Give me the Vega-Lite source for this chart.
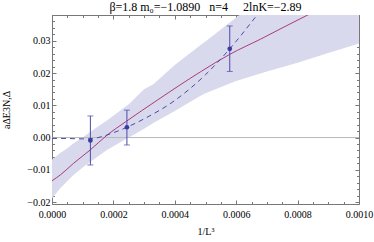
{
  "$schema": "https://vega.github.io/schema/vega-lite/v6.json",
  "width": 307,
  "height": 189,
  "autosize": {"type": "none"},
  "padding": {"left": 52, "top": 15, "right": 15, "bottom": 38},
  "title": {"text": "β=1.8 m₀=−1.0890\u00a0\u00a0 n=4\u00a0\u00a0\u00a0\u00a0 2lnK=−2.89", "font": "Liberation Serif", "fontSize": 12, "fontWeight": "normal", "color": "#000", "offset": 4, "dy": 8},
  "config": {
    "view": {"stroke": null},
    "axis": {"labelFont": "Liberation Serif", "labelFontSize": 10, "labelColor": "#000", "titleFont": "Liberation Serif", "titleFontSize": 10, "titleFontWeight": "normal", "titleColor": "#000", "domainColor": "#777", "tickColor": "#777", "grid": false}
  },
  "datasets": {
    "band": [
      {"x": 0.0, "lo": -0.0188, "hi": -0.0069},
      {"x": 0.000027, "lo": -0.0157, "hi": -0.0048},
      {"x": 0.00005, "lo": -0.0135, "hi": -0.0033},
      {"x": 0.00007, "lo": -0.0116, "hi": -0.0018},
      {"x": 0.0001, "lo": -0.0093, "hi": 0.0000},
      {"x": 0.000125, "lo": -0.0075, "hi": 0.0018},
      {"x": 0.00018, "lo": -0.0038, "hi": 0.0054},
      {"x": 0.00025, "lo": 0.0000, "hi": 0.0103},
      {"x": 0.0003, "lo": 0.0027, "hi": 0.0150},
      {"x": 0.00033, "lo": 0.0045, "hi": 0.0165},
      {"x": 0.0004, "lo": 0.0082, "hi": 0.0225},
      {"x": 0.000484, "lo": 0.0130, "hi": 0.0287},
      {"x": 0.0005, "lo": 0.0137, "hi": 0.0298},
      {"x": 0.000579, "lo": 0.0168, "hi": 0.0357},
      {"x": 0.0006, "lo": 0.0175, "hi": 0.0372},
      {"x": 0.0007, "lo": 0.0205, "hi": 0.0445},
      {"x": 0.0008, "lo": 0.0232, "hi": 0.0520},
      {"x": 0.0009, "lo": 0.0262, "hi": 0.0590},
      {"x": 0.001, "lo": 0.0292, "hi": 0.0660}
    ],
    "fit": [
      {"x": 0.0, "y": -0.0134},
      {"x": 0.000027, "y": -0.0116},
      {"x": 0.00007, "y": -0.0080},
      {"x": 0.000125, "y": -0.0038},
      {"x": 0.00018, "y": 0.0008},
      {"x": 0.00024, "y": 0.0049},
      {"x": 0.000343, "y": 0.0116},
      {"x": 0.000484, "y": 0.0204},
      {"x": 0.000579, "y": 0.0258},
      {"x": 0.000679, "y": 0.0305},
      {"x": 0.000833, "y": 0.0380},
      {"x": 0.001, "y": 0.0451}
    ],
    "dash": [
      {"x": 0.0, "y": -0.0002},
      {"x": 0.00005, "y": -0.0003},
      {"x": 0.0001, "y": -0.0004},
      {"x": 0.000125, "y": -0.0004},
      {"x": 0.00015, "y": 0.0000},
      {"x": 0.0002, "y": 0.0015},
      {"x": 0.000244, "y": 0.0032},
      {"x": 0.0003, "y": 0.0058},
      {"x": 0.0004, "y": 0.0115},
      {"x": 0.0005, "y": 0.0195},
      {"x": 0.000579, "y": 0.0275},
      {"x": 0.00065, "y": 0.0358},
      {"x": 0.0007, "y": 0.0420},
      {"x": 0.00075, "y": 0.0490}
    ],
    "pts": [
      {"x": 0.000125, "y": -0.0009, "lo": -0.0085, "hi": 0.0067},
      {"x": 0.000244, "y": 0.0032, "lo": -0.0023, "hi": 0.0085},
      {"x": 0.000579, "y": 0.0275, "lo": 0.0205, "hi": 0.0346}
    ]
  },
  "resolve": {"axis": {"x": "independent", "y": "independent"}},
  "layer": [
    {
      "data": {"name": "band"},
      "mark": {"type": "area", "color": "#d9d9ee", "opacity": 1, "clip": true},
      "encoding": {
        "x": {"field": "x", "type": "quantitative", "scale": {"domain": [0, 0.001], "nice": false, "zero": false},
          "axis": {"orient": "bottom", "title": "1/L³", "titlePadding": 6, "format": ".4f",
            "values": [0,0.00005,0.0001,0.00015,0.0002,0.00025,0.0003,0.00035,0.0004,0.00045,0.0005,0.00055,0.0006,0.00065,0.0007,0.00075,0.0008,0.00085,0.0009,0.00095,0.001],
            "labelExpr": "abs(datum.value/0.0002 - round(datum.value/0.0002)) < 0.001 ? datum.label : ''",
            "tickSize": {"condition": {"test": "abs(datum.value/0.0002 - round(datum.value/0.0002)) < 0.001", "value": -4}, "value": -2.5},
            "labelPadding": 9, "labelFlush": false, "labelOverlap": false}},
        "y": {"field": "lo", "type": "quantitative", "scale": {"domain": [-0.0206, 0.038], "nice": false, "zero": false},
          "axis": {"orient": "left", "title": "aΔE3N,Δ", "titlePadding": 15, "format": ".2f",
            "values": [-0.02,-0.018,-0.016,-0.014,-0.012,-0.01,-0.008,-0.006,-0.004,-0.002,0,0.002,0.004,0.006,0.008,0.01,0.012,0.014,0.016,0.018,0.02,0.022,0.024,0.026,0.028,0.03,0.032,0.034,0.036,0.038],
            "labelExpr": "abs(datum.value/0.01 - round(datum.value/0.01)) < 0.001 ? datum.label : ''",
            "tickSize": {"condition": {"test": "abs(datum.value/0.01 - round(datum.value/0.01)) < 0.001", "value": -4}, "value": -2.5},
            "labelPadding": 6, "labelOverlap": false, "labelFlush": false}},
        "y2": {"field": "hi"}
      }
    },
    {
      "data": {"values": [{"z": 0}]},
      "mark": {"type": "rule", "color": "#b8b8b8", "strokeWidth": 1},
      "encoding": {"y": {"field": "z", "type": "quantitative", "axis": null}}
    },
    {
      "data": {"name": "fit"},
      "mark": {"type": "line", "color": "#a63d78", "strokeWidth": 1, "clip": true, "interpolate": "monotone"},
      "encoding": {
        "x": {"field": "x", "type": "quantitative",
          "axis": {"orient": "top", "title": null, "labels": false,
            "values": [0,0.00005,0.0001,0.00015,0.0002,0.00025,0.0003,0.00035,0.0004,0.00045,0.0005,0.00055,0.0006,0.00065,0.0007,0.00075,0.0008,0.00085,0.0009,0.00095,0.001],
            "tickSize": {"condition": {"test": "abs(datum.value/0.0002 - round(datum.value/0.0002)) < 0.001", "value": -4}, "value": -2.5}}},
        "y": {"field": "y", "type": "quantitative",
          "axis": {"orient": "right", "title": null, "labels": false,
            "values": [-0.02,-0.018,-0.016,-0.014,-0.012,-0.01,-0.008,-0.006,-0.004,-0.002,0,0.002,0.004,0.006,0.008,0.01,0.012,0.014,0.016,0.018,0.02,0.022,0.024,0.026,0.028,0.03,0.032,0.034,0.036,0.038],
            "tickSize": {"condition": {"test": "abs(datum.value/0.01 - round(datum.value/0.01)) < 0.001", "value": -4}, "value": -2.5}}}
      }
    },
    {
      "data": {"name": "dash"},
      "mark": {"type": "line", "color": "#4a4aa8", "strokeWidth": 1, "strokeDash": [5, 4], "clip": true, "interpolate": "monotone"},
      "encoding": {
        "x": {"field": "x", "type": "quantitative", "axis": null},
        "y": {"field": "y", "type": "quantitative", "axis": null}
      }
    },
    {
      "data": {"name": "pts"},
      "mark": {"type": "rule", "color": "#4a4aa8", "strokeWidth": 1},
      "encoding": {
        "x": {"field": "x", "type": "quantitative", "axis": null},
        "y": {"field": "lo", "type": "quantitative", "axis": null},
        "y2": {"field": "hi"}
      }
    },
    {
      "data": {"name": "pts"},
      "mark": {"type": "tick", "color": "#4a4aa8", "thickness": 1, "size": 6, "orient": "horizontal"},
      "encoding": {
        "x": {"field": "x", "type": "quantitative", "axis": null},
        "y": {"field": "lo", "type": "quantitative", "axis": null}
      }
    },
    {
      "data": {"name": "pts"},
      "mark": {"type": "tick", "color": "#4a4aa8", "thickness": 1, "size": 6, "orient": "horizontal"},
      "encoding": {
        "x": {"field": "x", "type": "quantitative", "axis": null},
        "y": {"field": "hi", "type": "quantitative", "axis": null}
      }
    },
    {
      "data": {"name": "pts"},
      "mark": {"type": "point", "filled": true, "color": "#3a3aa0", "size": 22, "opacity": 1},
      "encoding": {
        "x": {"field": "x", "type": "quantitative", "axis": null},
        "y": {"field": "y", "type": "quantitative", "axis": null}
      }
    }
  ]
}
